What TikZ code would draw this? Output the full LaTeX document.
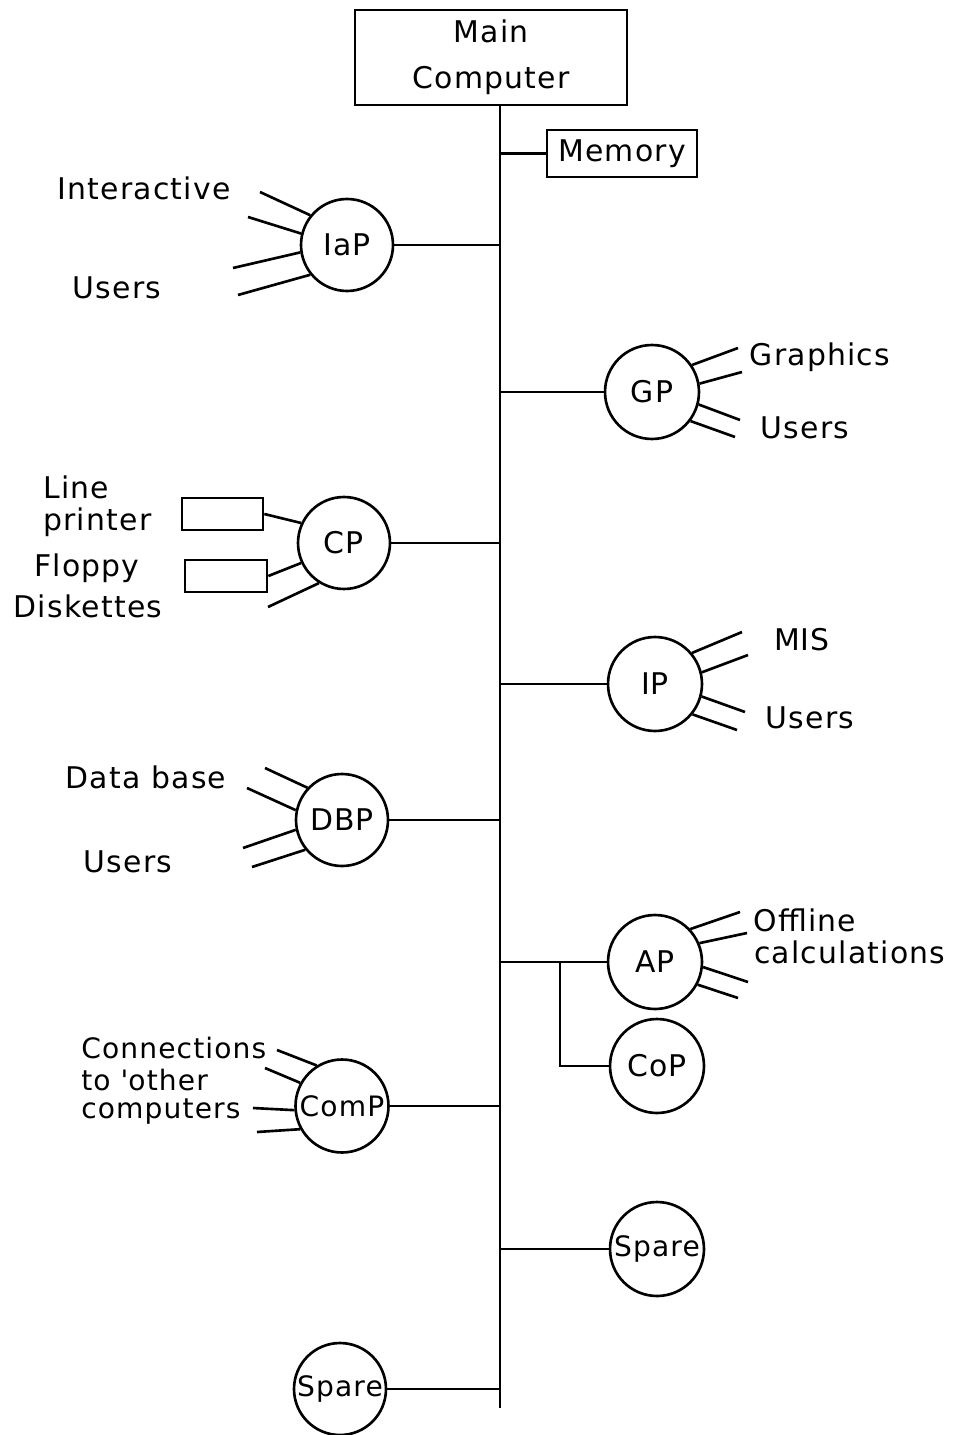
\documentclass[tikz,border=0pt]{standalone}
\usepackage{fontspec}
\setmainfont[LetterSpace=4]{DejaVu Sans}
\begin{document}
\begin{tikzpicture}[x=0.02cm,y=-0.02cm, line width=1.5pt,
  lbl/.style={font=\fontsize{17}{20}\selectfont, inner sep=0pt},
  proc/.style={draw, circle, inner sep=0pt, minimum size=1.88cm, font=\fontsize{17}{20}\selectfont},
  pbox/.style={draw, rectangle, inner sep=0pt, font=\fontsize{17}{20}\selectfont}]
\useasboundingbox (0,0) rectangle (979,1435);

% boxes
\node[pbox, minimum width=5.44cm, minimum height=1.9cm, align=center, font=\fontsize{17}{26}\selectfont] (main) at (491,57.5) {Main\\Computer};
\node[pbox, minimum width=3cm, minimum height=0.94cm] (mem) at (622,153.5) {Memory};

% bus
\coordinate (bt) at (500,105);
\coordinate (bb) at (500,1408);
\draw (bt) -- (bb);
\draw (mem.west -| bt) -- (mem.west);

% processors
\node[proc, minimum size=1.84cm] (iap) at (347,245) {IaP};
\node[proc] (gp) at (652,392) {GP};
\node[proc, minimum size=1.84cm] (cp) at (344,543) {CP};
\node[proc] (ip) at (655,684) {IP};
\node[proc, minimum size=1.84cm] (dbp) at (342,820) {DBP};
\node[proc] (ap) at (655,962) {AP};
\node[proc] (cop) at (657,1066) {CoP};
\node[proc, minimum size=1.86cm, font=\fontsize{16}{20}\selectfont] (comp) at (342,1106) {ComP};
\node[proc, font=\fontsize{16}{20}\selectfont] (spare1) at (657,1249) {Spare};
\node[proc, minimum size=1.84cm, font=\fontsize{16}{20}\selectfont] (spare2) at (340,1389) {Spare};

% branches to bus
\foreach \n in {iap,cp,dbp,comp,spare2} \draw (\n.east) -- (\n.east -| bt);
\foreach \n in {gp,ip,ap,spare1} \draw (\n.west) -- (\n.west -| bt);
\coordinate (jn) at (560,962);
\draw (jn) |- (cop.west);

% peripheral boxes of CP
\node[pbox, minimum width=1.62cm, minimum height=0.64cm] (lp) at (222.5,514) {};
\node[pbox, minimum width=1.64cm, minimum height=0.64cm] (fd) at (226,576) {};
\draw (lp.east) -- (cp.155);
\draw (fd.east) -- (cp.205);
\coordinate (cp-e1) at (268,607);
\draw (cp.238) -- (cp-e1);

% spokes
\foreach \a/\x/\y [count=\i] in {141/260/192, 166/248/217, 189/233/268, 219/238/295}
  {\coordinate (iap-e\i) at (\x,\y); \draw (iap.\a) -- (iap-e\i);}
\foreach \a/\x/\y [count=\i] in {34/738/348, 10/742/372, -15/740/420, -37/735/437}
  {\coordinate (gp-e\i) at (\x,\y); \draw (gp.\a) -- (gp-e\i);}
\foreach \a/\x/\y [count=\i] in {40/742/632, 14/748/655, -15/745/712, -39/737/730}
  {\coordinate (ip-e\i) at (\x,\y); \draw (ip.\a) -- (ip-e\i);}
\foreach \a/\x/\y [count=\i] in {137/265/768, 168/247/788, 192/243/848, 219/252/867}
  {\coordinate (dbp-e\i) at (\x,\y); \draw (dbp.\a) -- (dbp-e\i);}
\foreach \a/\x/\y [count=\i] in {43/740/912, 23/747/933, -6/748/982, -28/738/998}
  {\coordinate (ap-e\i) at (\x,\y); \draw (ap.\a) -- (ap-e\i);}
\foreach \a/\x/\y [count=\i] in {122/277/1050, 151/265/1068, 185/253/1108, 209/257/1132}
  {\coordinate (comp-e\i) at (\x,\y); \draw (comp.\a) -- (comp-e\i);}

% labels
\node[lbl] (t1) at (144,188) {Interactive};
\node[lbl] (t2) at (117,288) {Users};
\node[lbl] (t3) at (820,357) {Graphics};
\node[lbl] (t4) at (805,428) {Users};
\node[lbl, anchor=base west] (t5) at (42,499) {Line};
\node[lbl, anchor=base west] (t6) at (42,530) {printer};
\node[lbl] (t7) at (87,568) {Floppy};
\node[lbl] (t8) at (88,606) {Diskettes};
\node[lbl] (t9) at (802,640) {MIS};
\node[lbl] (t10) at (810,718) {Users};
\node[lbl] (t11) at (146,777) {Data base};
\node[lbl] (t12) at (128,862) {Users};
\node[lbl, anchor=west] (t13) at (752,920) {Offline};
\node[lbl, anchor=west] (t14) at (753,952) {calculations};
\node[lbl, anchor=west, font=\fontsize{16}{20}\selectfont] (t15) at (80,1048) {Connections};
\node[lbl, anchor=west, font=\fontsize{16}{20}\selectfont] (t16) at (80,1080) {to \textquotesingle other};
\node[lbl, anchor=west, font=\fontsize{16}{20}\selectfont] (t17) at (80,1112) {computers};
\end{tikzpicture}
\end{document}
